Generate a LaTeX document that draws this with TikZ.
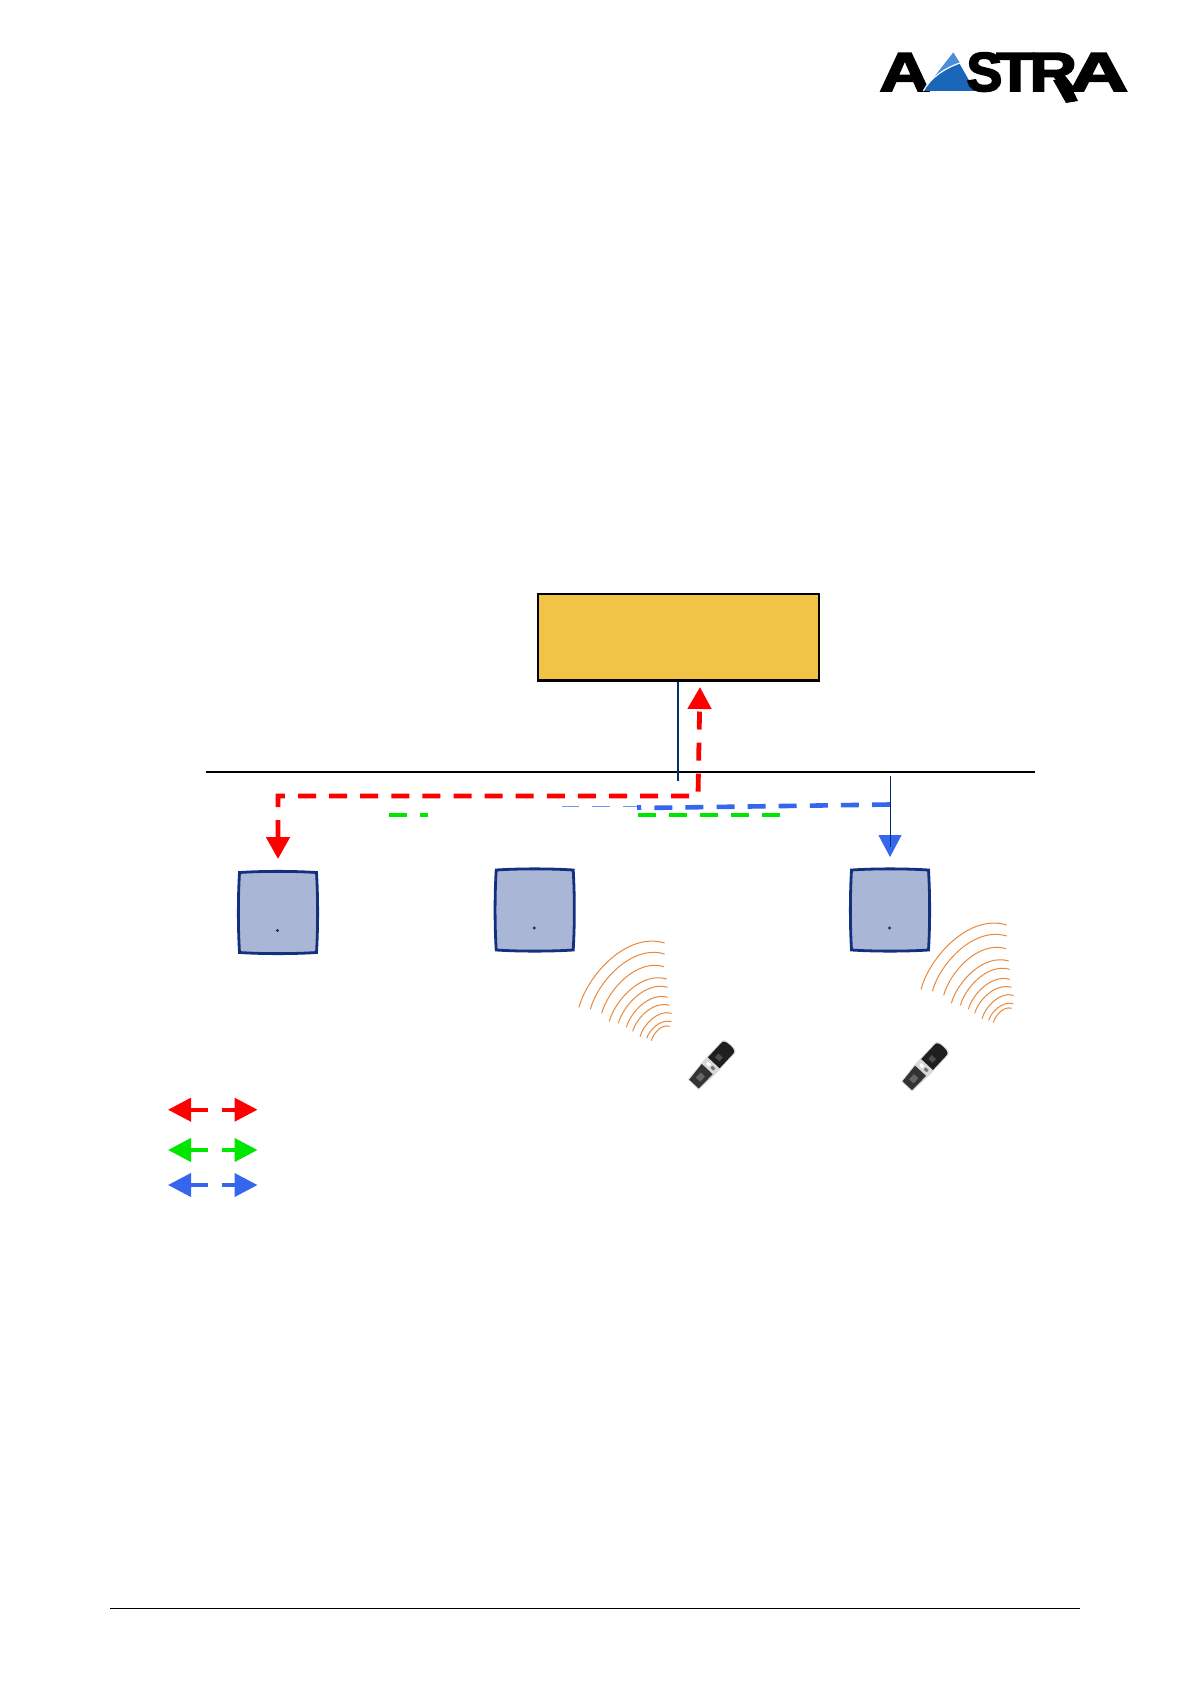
\documentclass[tikz,border=0pt]{standalone}
\usepackage{fontspec}
\usetikzlibrary{arrows.meta}
\newfontfamily\logofont[FakeBold=3]{Liberation Sans Bold}
\definecolor{pbxfill}{HTML}{F2C445}
\definecolor{navyline}{HTML}{00306E}
\definecolor{apfill}{HTML}{A9B6D6}
\definecolor{apedge}{HTML}{12307F}
\definecolor{linkred}{HTML}{FF0000}
\definecolor{linkgreen}{HTML}{00E600}
\definecolor{linkblue}{HTML}{3566EE}
\definecolor{waveorange}{HTML}{E88A3E}
\definecolor{logoblue}{HTML}{1A66B8}
\definecolor{logolight}{HTML}{4C8FD8}
\tikzset{
  x=0.5pt, y=-0.5pt,
  pbx/.style={draw=black, fill=pbxfill, line width=1.25pt, minimum width=140.5pt, minimum height=43.3pt, inner sep=0pt},
  busline/.style={draw=black, line width=1.1pt},
  navy/.style={draw=navyline, line width=0.9pt},
  navythin/.style={draw=navyline, line width=0.55pt},
  redlink/.style={draw=linkred, line width=2.4pt, dash pattern=on 9pt off 6.55pt, {Triangle[width=11.5pt,length=11pt]}-{Triangle[width=11.5pt,length=11pt]}},
  bluelink/.style={draw=linkblue, line width=2.3pt, dash pattern=on 9pt off 6.55pt},
  bluethin/.style={draw=linkblue!70, line width=0.6pt, dash pattern=on 9pt off 6.55pt},
  greenlink/.style={draw=linkgreen, line width=2.2pt, dash pattern=on 9pt off 6.55pt},
  keyarrow/.style={line width=2pt, -{Triangle[width=11.5pt,length=11.5pt]}},
  logotext/.style={inner sep=0pt, anchor=base west, font=\logofont\fontsize{27.5pt}{28pt}\selectfont},
  wave/.style={draw=waveorange, line width=0.5pt},
  apsquare/.pic={
    \path[draw=apedge, fill=apfill, line width=1.4pt]
      (-38.5,-40) .. controls (-15,-41.5) and (15,-41.5) .. (38.5,-40)
      .. controls (40,-15) and (40,15) .. (38.5,40)
      .. controls (15,41.5) and (-15,41.5) .. (-38.5,40)
      .. controls (-40,15) and (-40,-15) .. (-38.5,-40) -- cycle;
    \fill[apedge] (-0.5,18) circle (0.8pt);
  },
  wavefan/.pic={
    \foreach \sx/\sy/\ex/\ey in {57/292/314/99,91/298/314/132,125/310/312/170,148/334/320/207,175/340/323/232,199/352/323/262,218/364/328/286,240/380/335/310,260/385/334/335,274/392/329/349}{
      \pgfmathsetmacro\ax{\sx+0.1*(\ex-\sx)}
      \pgfmathsetmacro\ay{\sy+0.5*(\ey-\sy)}
      \pgfmathsetmacro\bx{\sx+0.56*(\ex-\sx)}
      \pgfmathsetmacro\by{\sy+1.18*(\ey-\sy)}
      \draw[wave] (\sx,\sy) .. controls (\ax,\ay) and (\bx,\by) .. (\ex,\ey);
    }
  },
  handset/.pic={
    \fill[black!15] (-27,-7.5) -- (-4,-9) -- (24,-9) .. controls (27,-9) and (28,-6) .. (28,0) .. controls (28,6) and (27,9) .. (24,9) -- (-4,9) -- (-27,7.5) -- cycle;
    \fill[black!88] (3,-8) -- (23,-8) .. controls (26,-8) and (27,-5) .. (27,0) .. controls (27,5) and (26,8) .. (23,8) -- (3,8) -- cycle;
    \fill[black!70] (8,-3) rectangle (13,3);
    \fill[black!80] (-26,-6.5) -- (-6,-8) -- (-6,7) -- (-26,6.5) -- cycle;
    \fill[black!60] (-20,-3) rectangle (-13,3);
    \fill[white] (-3,-5) rectangle (0,-1);
    \fill[black!55] (-3,1) rectangle (0,5);
  }
}
\begin{document}
\begin{tikzpicture}
\useasboundingbox (0,0) rectangle (1190,1684);
\fill[white] (0,0) rectangle (1190,1684);

% logo
\node[logotext] (logoA) at (879,91) {\scalebox{1.28}[1]{A}};
\fill[logoblue] (953.3,52.7) -- (923.3,91) -- (975,91) -- cycle;
\fill[logolight] (953.3,52.7) -- (923.3,91) .. controls (930,78) and (945,68) .. (960,63) -- cycle;
\draw[white, line width=0.6pt] (923.3,91) .. controls (930,78) and (945,68) .. (960,63);
\node[logotext] (logoS) at (966,91) {\scalebox{0.98}[1]{S}};
\node[logotext] (logoT) at (996,91) {\scalebox{1.12}[1]{T}};
\node[logotext] (logoR) at (1029,91) {\scalebox{1.2}[1]{R}};
\node[logotext] (logoB) at (1069,91) {\scalebox{1.48}[1]{A}};
\fill[black] (1053,80) -- (1068,80) -- (1078,101) -- (1066,103) -- cycle;

% server and bus
\node[pbx] (pbx) at (678.3,637.3) {};
\coordinate (busL) at (206,772);
\coordinate (busR) at (1035,772);
\draw[busline] (busL) -- (busR);
\coordinate (pbxfoot) at (678,781);
\draw[navy] (pbx.south -| pbxfoot) -- (pbxfoot);

% access points
\pic (ap1) at (278,912.5) {apsquare};
\pic (ap2) at (534.7,910) {apsquare};
\pic (ap3) at (890,910) {apsquare};

% links
\coordinate (rtipA) at (278,859);
\coordinate (rcornerA) at (278,796);
\coordinate (rcornerB) at (698,796);
\coordinate (rtipB) at (700,687);
\draw[redlink] (rtipA) -- (rcornerA) -- (rcornerB) -- (rtipB);

\coordinate (bstart) at (890,804.5);
\coordinate (bmid) at (641,808);
\coordinate (bthinA) at (641,806.3);
\coordinate (bthinB) at (561.5,806.3);
\draw[bluelink] (bstart) -- (bmid);
\draw[bluethin] (bthinA) -- (bthinB);
\fill[linkblue] (637,805.4) rectangle (641,810);

\coordinate (gA) at (389,815);
\coordinate (gB) at (428,815);
\coordinate (gC) at (638,815);
\coordinate (gD) at (780,815);
\draw[greenlink] (gA) -- (gB);
\draw[greenlink] (gC) -- (gD);

\coordinate (btipbase) at (890,834);
\coordinate (btip) at (890,857);
\draw[draw=linkblue, line width=0.5pt, -{Triangle[width=11.5pt,length=11pt]}] (btipbase) -- (btip);
\coordinate (ntop) at (890.5,776);
\coordinate (nbot) at (890.5,847);
\draw[navythin] (ntop) -- (nbot);

% radio waves
\pic[scale=1/3] (fan1) at (560,910) {wavefan};
\pic[scale=1/3] (fan2) at (902,892) {wavefan};

% handsets
\pic[rotate=47] (phone1) at (711.7,1065) {handset};
\pic[rotate=47] (phone2) at (925,1066.7) {handset};

% legend
\foreach \nm/\col/\yy in {r/linkred/1109.7,g/linkgreen/1150,b/linkblue/1185}{
  \coordinate (k\nm a) at (208,\yy);
  \coordinate (k\nm b) at (168,\yy);
  \coordinate (k\nm c) at (222,\yy);
  \coordinate (k\nm d) at (257.5,\yy);
  \draw[keyarrow, draw=\col, color=\col] (k\nm a) -- (k\nm b);
  \draw[keyarrow, draw=\col, color=\col] (k\nm c) -- (k\nm d);
}

% footer rule
\coordinate (footL) at (110,1608.3);
\coordinate (footR) at (1080,1608.3);
\draw[black, line width=0.6pt] (footL) -- (footR);
\end{tikzpicture}
\end{document}
